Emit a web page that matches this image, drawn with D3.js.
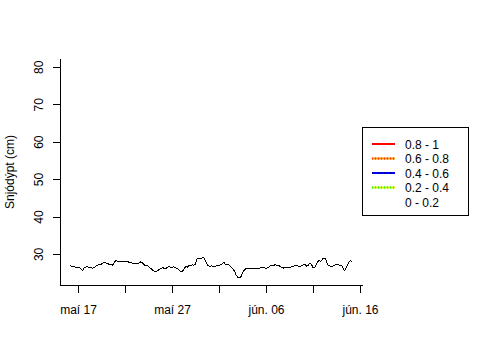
<!DOCTYPE html>
<html>
<head>
<meta charset="utf-8">
<script src="https://cdn.jsdelivr.net/npm/d3@7"></script>
<style>
  body { margin: 0; background: #fff; }
  svg { display: block; font-family: "Liberation Sans", Arial, sans-serif; }
</style>
</head>
<body>
<svg id="chart" width="480" height="360"></svg>
<script>
// ---- data ----
const startTime = "2013-05-16T04:00:00";
const stepHours = 4;
const snowDepth = [
  26.8,26.7,26.6,26.5,26.5,26.4,26.4,26.0,25.5,26.3,
  26.5,26.6,26.4,26.5,26.2,26.3,26.6,26.9,27.1,27.1,
  27.3,27.6,27.8,27.6,27.4,27.2,27.1,27.0,27.5,28.2,
  28.1,27.9,27.9,28.0,28.0,28.0,27.9,27.9,27.7,27.6,
  27.5,27.4,27.4,27.4,27.6,27.9,27.7,27.2,26.9,26.9,
  26.7,26.3,25.9,25.5,25.3,25.3,25.6,25.9,26.1,26.3,
  26.2,26.1,26.4,26.7,26.4,26.4,26.6,26.4,26.2,25.9,
  25.5,25.3,25.5,26.2,26.7,26.5,27.0,26.8,27.1,27.0,
  27.3,28.8,28.8,28.7,28.9,29.1,28.5,27.6,26.9,26.6,
  26.8,26.7,26.6,26.8,27.0,26.8,27.1,27.3,27.8,27.3,
  27.3,27.1,26.8,26.4,25.9,25.3,24.3,23.8,23.6,23.9,
  25.0,25.6,26.0,26.1,26.1,26.1,26.1,26.1,26.1,26.1,
  26.1,26.2,26.4,26.5,26.3,26.1,26.3,26.5,26.9,26.8,
  27.0,27.1,26.9,26.9,26.7,26.3,26.2,26.4,26.4,26.4,
  26.4,26.5,26.6,26.8,26.9,27.0,26.6,26.7,26.9,27.1,
  27.1,26.7,27.0,27.5,27.2,26.4,26.4,27.0,27.9,28.3,
  28.0,28.6,28.9,28.8,27.4,26.9,26.7,26.7,26.8,27.0,
  27.2,27.2,27.0,27.0,26.4,25.5,26.1,27.0,27.8,28.2,
  28.0
];
const yTicks = [30, 40, 50, 60, 70, 80];
const xTickDates = ["2013-05-17","2013-05-22","2013-05-27","2013-06-01","2013-06-06","2013-06-11","2013-06-16"];
const xTickLabels = ["maí 17","","maí 27","","jún. 06","","jún. 16"];
const legendLabels = ["0.8 - 1","0.6 - 0.8","0.4 - 0.6","0.2 - 0.4","0 - 0.2"];
const legendColors = ["#ff0000","#ff9900","#0000ff","#ccff00","#ffffff"];
const legendDots   = [null,"#ff2a00","#000099","#22ee00",null];
const yTitle = "Snjódýpt (cm)";

// ---- build ----
(function () {
const parse = d3.timeParse("%Y-%m-%dT%H:%M:%S");
const t0 = parse(startTime);
const series = snowDepth.map((v, i) => ({ t: d3.timeHour.offset(t0, i * stepHours), v }));

const pL = 60, pR = 363, pT = 59, pB = 285;
const x = d3.scaleTime()
  .domain([new Date(2013, 4, 15, 2, 3), new Date(2013, 5, 16, 7, 40)])
  .range([pL, pR]);
const y = d3.scaleLinear().domain([21.7, 82.1]).range([pB, pT]);

const svg = d3.select("#chart");
svg.append("rect").attr("width", 480).attr("height", 360).attr("fill", "#fff");

// L-shaped box
svg.append("path")
  .attr("d", `M${pL + 0.5},${pT}V${pB + 0.5}H${pR}`)
  .attr("fill", "none").attr("stroke", "#000").attr("stroke-width", 1)
  .attr("shape-rendering", "crispEdges");

// y axis
const yAxis = d3.axisLeft(y).tickValues(yTicks).tickSize(8).tickSizeOuter(0).tickFormat(d3.format("d"));
const gy = svg.append("g").attr("transform", `translate(${pL + 0.5},0)`).call(yAxis);
gy.select(".domain").remove();
gy.selectAll(".tick line").attr("stroke", "#000").attr("shape-rendering", "crispEdges");
gy.selectAll(".tick text")
  .attr("font-size", 12).attr("fill", "#000")
  .attr("text-anchor", "middle")
  .attr("x", null).attr("dy", null)
  .attr("transform", "translate(-17.5,0) rotate(-90)");

// x axis
const xDates = xTickDates.map(d3.timeParse("%Y-%m-%d"));
const xAxis = d3.axisBottom(x).tickValues(xDates).tickSize(7).tickSizeOuter(0)
  .tickFormat((d, i) => xTickLabels[i]);
const gx = svg.append("g").attr("transform", `translate(0,${pB + 0.5})`).call(xAxis);
gx.select(".domain").remove();
gx.selectAll(".tick line").attr("stroke", "#000").attr("shape-rendering", "crispEdges");
gx.selectAll(".tick text")
  .attr("font-size", 12).attr("fill", "#000")
  .attr("dy", null).attr("y", 28);

// y title
svg.append("text")
  .attr("transform", `translate(14,${(pT + pB) / 2}) rotate(-90)`)
  .attr("text-anchor", "middle").attr("font-size", 12).attr("fill", "#000")
  .text(yTitle);

// data line
const line = d3.line().x(d => x(d.t)).y(d => y(d.v));
svg.append("path").datum(series)
  .attr("d", line)
  .attr("fill", "none").attr("stroke", "#000").attr("stroke-width", 1)
  .attr("shape-rendering", "crispEdges");

// legend
const lg = svg.append("g");
lg.append("rect").attr("x", 362.5).attr("y", 127.5).attr("width", 106).attr("height", 88)
  .attr("fill", "#fff").attr("stroke", "#000").attr("shape-rendering", "crispEdges");
const rowY = i => 144 + i * 14.5;
legendLabels.forEach((lab, i) => {
  lg.append("line").attr("x1", 372).attr("x2", 395).attr("y1", rowY(i)).attr("y2", rowY(i))
    .attr("stroke", legendColors[i]).attr("stroke-width", 2);
  if (legendDots[i]) {
    lg.append("line").attr("x1", 372).attr("x2", 395).attr("y1", rowY(i)).attr("y2", rowY(i))
      .attr("stroke", legendDots[i]).attr("stroke-width", 2).attr("stroke-dasharray", "1,2");
  }
  lg.append("text").attr("x", 405).attr("y", rowY(i) + 4.5)
    .attr("font-size", 12).attr("fill", "#000").text(lab);
});
})();
</script>
</body>
</html>
